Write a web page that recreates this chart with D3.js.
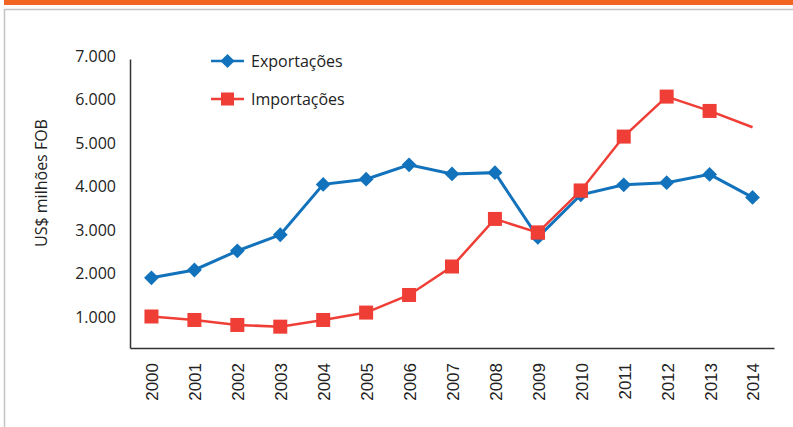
<!DOCTYPE html>
<html>
<head>
<meta charset="utf-8">
<script src="https://cdn.jsdelivr.net/npm/d3@7"></script>
<style>
  html, body { margin: 0; padding: 0; background: #fff; }
  svg { display: block; }
</style>
</head>
<body>
<svg id="chart" width="793" height="427"></svg>
<script>
const years = ["2000","2001","2002","2003","2004","2005","2006","2007","2008","2009","2010","2011","2012","2013","2014"];
const exportacoes = [1900, 2080, 2520, 2890, 4050, 4170, 4500, 4290, 4320, 2830, 3810, 4040, 4090, 4280, 3750];
const importacoes = [1010, 930, 815, 776, 930, 1100, 1505, 2160, 3255, 2940, 3905, 5150, 6070, 5740, 5365];
const yTicks = [1000, 2000, 3000, 4000, 5000, 6000, 7000];
const seriesNames = ["Exportações", "Importações"];
const yTitle = "US$ milhões FOB";

const W = 793, H = 427;
const svg = d3.select("#chart");
const blue = "#1272bb", red = "#ef3e36", orange = "#f26522";

// frame decorations
svg.append("rect").attr("x", 4).attr("y", 0).attr("width", W - 4).attr("height", 5).attr("fill", orange);
svg.append("path").attr("d", `M4.5,${H} L4.5,9.5 L${W},9.5`).attr("fill", "none").attr("stroke", "#c4c4c4").attr("stroke-width", 1.5);

const mLeft = 130, mRight = 774, mTop = 59, mBottom = 348;
const x = d3.scaleBand().domain(years).range([mLeft, mRight]);
const y = d3.scaleLinear().domain([285, 6935]).range([mBottom, mTop]);

const fmt = v => d3.format(",")(v).replace(/,/g, ".");

// y axis
const ya = svg.append("g").attr("transform", `translate(${mLeft},0)`)
  .call(d3.axisLeft(y).tickValues(yTicks).tickSize(0).tickPadding(14).tickFormat(fmt));
ya.select(".domain").attr("stroke", "#333").attr("stroke-width", 1.5);
ya.selectAll("text").attr("font-family", "'Open Sans', sans-serif").attr("font-size", 16).attr("fill", "#222");

// x axis
const xa = svg.append("g").attr("transform", `translate(0,${mBottom})`)
  .call(d3.axisBottom(x).tickSize(0).tickPadding(0));
xa.select(".domain").attr("stroke", "#333").attr("stroke-width", 1.5);
xa.selectAll("text")
  .attr("font-family", "'Liberation Sans', Arial, sans-serif").attr("font-size", 17).attr("fill", "#222")
  .attr("transform", "rotate(-90)")
  .attr("text-anchor", "end")
  .attr("dy", "0.35em")
  .attr("x", -15).attr("y", 1);

// y title
svg.append("text")
  .attr("transform", `translate(47,183) rotate(-90)`)
  .attr("text-anchor", "middle")
  .attr("font-family", "'Open Sans', sans-serif").attr("font-size", 16).attr("fill", "#222")
  .text(yTitle);

const cx = d => x(d) + x.bandwidth() / 2;
const line = d3.line().x((d, i) => cx(years[i])).y(d => y(d));

// import line (no marker on last point)
svg.append("path").datum(importacoes).attr("d", line)
  .attr("fill", "none").attr("stroke", red).attr("stroke-width", 2.5);
svg.append("g").selectAll("rect").data(importacoes.slice(0, importacoes.length - 1)).join("rect")
  .attr("x", (d, i) => cx(years[i]) - 7).attr("y", d => y(d) - 7)
  .attr("width", 14).attr("height", 14).attr("fill", red);

// export line
svg.append("path").datum(exportacoes).attr("d", line)
  .attr("fill", "none").attr("stroke", blue).attr("stroke-width", 3);
svg.append("g").selectAll("path").data(exportacoes).join("path")
  .attr("d", d3.symbol().type(d3.symbolSquare).size(110))
  .attr("transform", (d, i) => `translate(${cx(years[i])},${y(d)}) rotate(45)`)
  .attr("fill", blue);

// the 2009/2010 crossing: red markers over blue as in reference
svg.append("g").selectAll("rect").data([9, 10]).join("rect")
  .attr("x", i => cx(years[i]) - 7).attr("y", i => y(importacoes[i]) - 7)
  .attr("width", 14).attr("height", 14).attr("fill", red);

// legend
const lg = svg.append("g");
const lgY = [61, 99];
const colors = [blue, red];
seriesNames.forEach((name, i) => {
  const g = lg.append("g").attr("transform", `translate(211,${lgY[i]})`);
  g.append("line").attr("x1", 0).attr("x2", 33).attr("stroke", colors[i]).attr("stroke-width", 2.5);
  if (i === 0) {
    g.append("path").attr("d", d3.symbol().type(d3.symbolSquare).size(100)).attr("transform", "translate(16.5,0) rotate(45)").attr("fill", blue);
  } else {
    g.append("rect").attr("x", 10).attr("y", -6.5).attr("width", 13).attr("height", 13).attr("fill", red);
  }
  g.append("text").attr("x", 40).attr("dy", "0.36em")
    .attr("font-family", "'Open Sans', sans-serif").attr("font-size", 16).attr("fill", "#222")
    .text(name);
});
</script>
</body>
</html>
